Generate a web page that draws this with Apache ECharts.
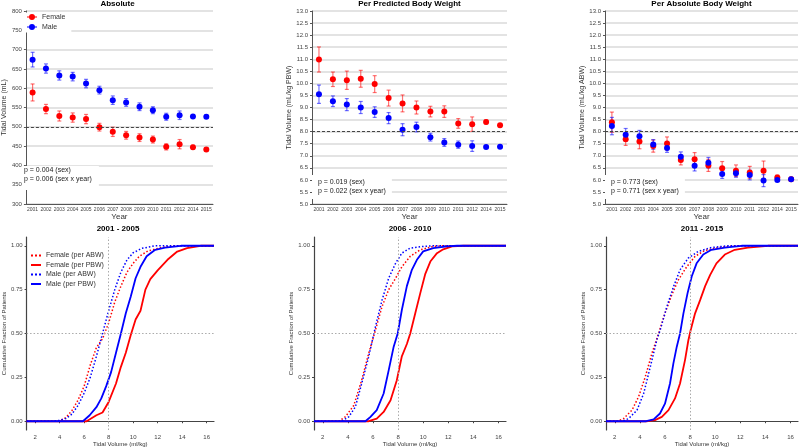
<!DOCTYPE html>
<html>
<head>
<meta charset="utf-8">
<script src="https://cdn.jsdelivr.net/npm/echarts@6/dist/echarts.min.js"></script>
<style>
  html, body { margin: 0; padding: 0; background: #fff; }
  #main { width: 800px; height: 448px; }
</style>
</head>
<body>
<div id="main"></div>
<script>
// year categories (no 2013 in the source)
var years = ['2001','2002','2003','2004','2005','2006','2007','2008','2009','2010','2011','2012','2014','2015'];

// Absolute tidal volume (mL), mean and error
var absFemale    = [589, 546, 528, 524, 520, 499, 487, 478, 472, 467, 448, 455, 447, 441];
var absFemaleErr = [22, 12, 13, 12, 12, 10, 12, 10, 10, 9, 8, 12, 5, 4];
var absMale      = [674, 651, 633, 630, 612, 595, 569, 563, 552, 543, 526, 530, 527, 526];
var absMaleErr   = [19, 12, 12, 11, 11, 10, 11, 10, 10, 9, 9, 11, 4, 4];

// per predicted body weight (mL/kg PBW)
var pbwFemale    = [10.99, 10.17, 10.13, 10.19, 9.97, 9.39, 9.17, 9.00, 8.83, 8.83, 8.34, 8.31, 8.40, 8.26];
var pbwFemaleErr = [0.52, 0.30, 0.38, 0.35, 0.35, 0.33, 0.35, 0.27, 0.22, 0.24, 0.20, 0.30, 0.08, 0.06];
var pbwMale      = [9.55, 9.26, 9.12, 9.00, 8.81, 8.56, 8.08, 8.19, 7.77, 7.55, 7.46, 7.40, 7.36, 7.37];
var pbwMaleErr   = [0.38, 0.22, 0.25, 0.25, 0.22, 0.23, 0.25, 0.20, 0.16, 0.16, 0.15, 0.22, 0.05, 0.05];

// per absolute body weight (mL/kg ABW)
var abwFemale    = [8.39, 7.68, 7.59, 7.40, 7.51, 6.82, 6.85, 6.60, 6.48, 6.38, 6.31, 6.38, 6.10, 6.03];
var abwFemaleErr = [0.42, 0.25, 0.30, 0.25, 0.27, 0.20, 0.28, 0.25, 0.28, 0.24, 0.25, 0.40, 0.10, 0.08];
var abwMale      = [8.23, 7.87, 7.81, 7.47, 7.32, 6.96, 6.59, 6.71, 6.24, 6.27, 6.20, 5.97, 6.00, 6.03];
var abwMaleErr   = [0.36, 0.26, 0.24, 0.20, 0.18, 0.20, 0.22, 0.22, 0.18, 0.16, 0.20, 0.25, 0.06, 0.06];

// cumulative distributions [tidal volume ml/kg, fraction]
var cdf0105FemaleABW = [[1.3,0],[3.9,0],[4.5,0.02],[5.0,0.06],[5.5,0.12],[6.0,0.2],[6.5,0.32],[7.0,0.42],[7.5,0.47],[8.0,0.56],[8.5,0.68],[9.0,0.77],[9.5,0.85],[10.0,0.9],[10.5,0.94],[11.2,0.97],[12.3,0.99],[13.4,1],[16.6,1]];
var cdf0105FemalePBW = [[1.3,0],[6.2,0],[7.0,0.034],[7.5,0.05],[8.0,0.11],[8.6,0.215],[9.0,0.31],[9.4,0.39],[9.8,0.49],[10.2,0.58],[10.6,0.63],[11.0,0.75],[11.4,0.81],[12.0,0.86],[12.8,0.92],[13.6,0.967],[14.4,0.987],[15.5,1],[16.6,1]];
var cdf0105MaleABW   = [[1.3,0],[3.5,0],[4.0,0.005],[4.5,0.015],[5.0,0.04],[5.5,0.09],[6.0,0.16],[6.5,0.25],[7.0,0.37],[7.5,0.5],[8.0,0.63],[8.5,0.75],[9.0,0.85],[9.5,0.92],[10.0,0.96],[10.7,0.985],[11.8,1],[16.6,1]];
var cdf0105MalePBW   = [[1.3,0],[5.9,0],[6.45,0.034],[7.0,0.08],[7.4,0.13],[7.8,0.2],[8.2,0.28],[8.6,0.39],[9.0,0.5],[9.4,0.615],[9.8,0.71],[10.2,0.815],[10.6,0.88],[11.1,0.94],[11.8,0.977],[12.6,0.99],[13.9,1],[16.6,1]];

var cdf0610FemaleABW = [[1.3,0],[3.27,0],[3.8,0.025],[4.47,0.09],[5.1,0.234],[5.66,0.387],[6.2,0.52],[6.72,0.653],[7.25,0.75],[7.8,0.815],[8.3,0.88],[8.97,0.94],[9.77,0.977],[10.8,0.996],[11.6,1],[16.6,1]];
var cdf0610FemalePBW = [[1.3,0],[5.66,0],[6.3,0.015],[6.85,0.053],[7.4,0.12],[7.9,0.234],[8.3,0.37],[8.7,0.44],[8.97,0.5],[9.37,0.615],[9.77,0.73],[10.17,0.84],[10.57,0.91],[11.1,0.958],[11.6,0.98],[12.3,0.996],[13.2,1],[16.6,1]];
var cdf0610MaleABW   = [[1.3,0],[3.5,0],[4.07,0.025],[4.6,0.082],[5.1,0.215],[5.66,0.368],[6.2,0.54],[6.72,0.69],[7.25,0.815],[7.8,0.9],[8.3,0.958],[8.97,0.987],[10.0,0.996],[10.8,1],[16.6,1]];
var cdf0610MalePBW   = [[1.3,0],[5.4,0],[5.8,0.025],[6.3,0.063],[6.85,0.158],[7.25,0.29],[7.65,0.425],[7.97,0.5],[8.3,0.634],[8.7,0.77],[9.1,0.863],[9.5,0.92],[10.0,0.968],[10.8,0.987],[11.9,0.996],[12.7,1],[16.6,1]];

var cdf1115FemaleABW = [[1.3,0],[2.2,0],[2.7,0.015],[3.37,0.063],[3.9,0.14],[4.43,0.253],[4.96,0.387],[5.49,0.5],[6.0,0.615],[6.54,0.72],[7.07,0.806],[7.73,0.88],[8.4,0.94],[9.18,0.973],[10.24,0.99],[11.56,1],[16.6,1]];
var cdf1115FemalePBW = [[1.3,0],[4.6,0],[5.2,0.006],[5.75,0.025],[6.28,0.063],[6.8,0.13],[7.2,0.215],[7.6,0.35],[7.86,0.46],[8.05,0.52],[8.4,0.615],[8.8,0.69],[9.2,0.77],[9.6,0.834],[10.1,0.9],[10.77,0.95],[11.56,0.977],[12.6,0.99],[14.2,1],[16.6,1]];
var cdf1115MaleABW   = [[1.3,0],[2.6,0],[3.1,0.015],[3.77,0.063],[4.3,0.158],[4.83,0.31],[5.35,0.463],[5.62,0.52],[6.15,0.653],[6.68,0.767],[7.2,0.863],[7.86,0.93],[8.65,0.968],[9.7,0.99],[11.0,1],[16.6,1]];
var cdf1115MalePBW   = [[1.3,0],[4.5,0],[5.1,0.01],[5.6,0.044],[6.0,0.1],[6.4,0.215],[6.67,0.33],[6.94,0.425],[7.2,0.5],[7.47,0.615],[7.8,0.73],[8.13,0.825],[8.52,0.9],[9.05,0.95],[9.7,0.977],[10.77,0.99],[12.1,1],[16.6,1]];

var cdfTicksX = [2, 4, 6, 8, 10, 12, 14, 16];
var cdfTicksY = [0, 0.25, 0.5, 0.75, 1];

var font = 'Liberation Sans, Arial, sans-serif';
var RED = '#ff0000', BLUE = '#0000ff';
var DOTTED_ICON = 'path://M0,0h2v2h-2z M4,0h2v2h-2z M8,0h2v2h-2z';
var SOLID_ICON = 'path://M0,0h10v2h-10z';

var chart = echarts.init(document.getElementById('main'));

function errData(vals, errs) {
  return vals.map(function (v, i) { return [i, v - errs[i], v + errs[i]]; });
}

function errSeries(name, data, color, idx) {
  return {
    type: 'custom', name: name, xAxisIndex: idx, yAxisIndex: idx,
    data: data, encode: { x: 0, y: [1, 2] }, z: 3, silent: true,
    renderItem: function (params, api) {
      var lo = api.coord([api.value(0), api.value(1)]);
      var hi = api.coord([api.value(0), api.value(2)]);
      var w = 2;
      var st = { stroke: color, lineWidth: 1.2 };
      return {
        type: 'group',
        children: [
          { type: 'line', shape: { x1: lo[0], y1: lo[1], x2: hi[0], y2: hi[1] }, style: st },
          { type: 'line', shape: { x1: lo[0] - w, y1: lo[1], x2: lo[0] + w, y2: lo[1] }, style: st },
          { type: 'line', shape: { x1: hi[0] - w, y1: hi[1], x2: hi[0] + w, y2: hi[1] }, style: st }
        ]
      };
    }
  };
}

function topX(idx) {
  return {
    type: 'category', gridIndex: idx, data: years, boundaryGap: true,
    name: 'Year', nameLocation: 'middle', nameGap: 9,
    nameTextStyle: { fontSize: 8, color: '#333', fontFamily: font },
    axisLine: { lineStyle: { color: '#555', width: 1 } },
    axisTick: { alignWithLabel: true, length: 2, lineStyle: { color: '#555' } },
    axisLabel: { interval: 0, fontSize: 5, color: '#444', margin: 3, fontFamily: font }
  };
}

function topY(idx, min, max, step, name) {
  return {
    type: 'value', gridIndex: idx, min: min, max: max, interval: step,
    name: name, nameLocation: 'middle', nameGap: 15,
    nameTextStyle: { fontSize: 7, color: '#333', fontFamily: font },
    axisLine: { show: true, lineStyle: { color: '#555', width: 1 } },
    axisTick: { show: true, length: 2, lineStyle: { color: '#555' } },
    axisLabel: { fontSize: 6, color: '#444', margin: 4, fontFamily: font,
      formatter: function (v) { return step < 1 ? v.toFixed(1) : String(v); } },
    splitLine: { show: true, lineStyle: { color: '#dadada', width: 1.5 } }
  };
}

function cdfX(idx) {
  return {
    type: 'value', gridIndex: idx, min: 1.3, max: 16.6,
    name: 'Tidal Volume (ml/kg)', nameLocation: 'middle', nameGap: 10,
    nameTextStyle: { fontSize: 6, color: '#333', fontFamily: font },
    axisLine: { show: true, lineStyle: { color: '#444', width: 1.2 } },
    axisTick: { show: true, length: 2, customValues: cdfTicksX, lineStyle: { color: '#444' } },
    axisLabel: { customValues: cdfTicksX, fontSize: 6, color: '#444', margin: 4, fontFamily: font },
    splitLine: { show: false }
  };
}

function cdfY(idx) {
  return {
    type: 'value', gridIndex: idx, min: -0.05, max: 1.05,
    name: 'Cumulative Fraction of Patients', nameLocation: 'middle', nameGap: 15,
    nameTextStyle: { fontSize: 6, color: '#333', fontFamily: font },
    axisLine: { show: true, lineStyle: { color: '#444', width: 1.2 } },
    axisTick: { show: true, length: 2, customValues: cdfTicksY, lineStyle: { color: '#444' } },
    axisLabel: { customValues: cdfTicksY, fontSize: 6, color: '#444', margin: 4, fontFamily: font,
      formatter: function (v) { return v.toFixed(2); } },
    splitLine: { show: false }
  };
}

function dotSeries(name, vals, color, idx, refY) {
  var s = {
    type: 'scatter', name: name, xAxisIndex: idx, yAxisIndex: idx, data: vals,
    symbolSize: 6, z: 4, itemStyle: { color: color, opacity: 1 }
  };
  if (refY !== undefined) {
    s.markLine = { silent: true, symbol: 'none', label: { show: false },
      lineStyle: { type: [3, 2], color: '#444', width: 1 }, data: [{ yAxis: refY }] };
  }
  return s;
}

function cdfSeries(name, data, color, dotted, idx, withRef) {
  var s = {
    type: 'line', name: name, xAxisIndex: idx, yAxisIndex: idx, data: data,
    symbol: 'none', showSymbol: false, smooth: false,
    itemStyle: { color: color },
    lineStyle: { color: color, width: dotted ? 1.5 : 1.8, type: dotted ? [1.5, 2] : 'solid' }
  };
  if (withRef) {
    s.markLine = { silent: true, symbol: 'none', label: { show: false },
      lineStyle: { type: [1.5, 2], color: '#aaa', width: 1 },
      data: [{ xAxis: 8 }, { yAxis: 0.5 }] };
  }
  return s;
}

var grids = [
  { left: 22, top: 11, width: 191, height: 193 },
  { left: 312, top: 11, width: 195, height: 193 },
  { left: 605, top: 11, width: 193, height: 193 },
  { left: 22, top: 237, width: 192, height: 193 },
  { left: 314, top: 237, width: 192, height: 193 },
  { left: 606, top: 237, width: 192, height: 193 }
];

var titleStyle = { fontSize: 8, fontWeight: 'bold', color: '#000', fontFamily: font };
var pStyle = { fontSize: 7, fontWeight: 'normal', color: '#222', lineHeight: 9, fontFamily: font };

var option = {
  animation: false,
  backgroundColor: '#fff',
  title: [
    { text: 'Absolute', left: 117.5, top: 0, textAlign: 'center', padding: 0, textStyle: titleStyle },
    { text: 'Per Predicted Body Weight', left: 409.5, top: 0, textAlign: 'center', padding: 0, textStyle: titleStyle },
    { text: 'Per Absolute Body Weight', left: 701.5, top: 0, textAlign: 'center', padding: 0, textStyle: titleStyle },
    { text: '2001 - 2005', left: 118, top: 225, textAlign: 'center', padding: 0, textStyle: titleStyle },
    { text: '2006 - 2010', left: 410, top: 225, textAlign: 'center', padding: 0, textStyle: titleStyle },
    { text: '2011 - 2015', left: 702, top: 225, textAlign: 'center', padding: 0, textStyle: titleStyle },
    { text: 'p = 0.004 (sex)\np = 0.006 (sex x year)', left: 22, top: 166, padding: [0, 7, 6, 2],
      backgroundColor: '#fff', textStyle: pStyle },
    { text: 'p = 0.019 (sex)\np = 0.022 (sex x year)', left: 312, top: 175, padding: [3, 6, 3, 6],
      backgroundColor: '#fff', textStyle: pStyle },
    { text: 'p = 0.773 (sex)\np = 0.771 (sex x year)', left: 605, top: 175, padding: [3, 6, 3, 6],
      backgroundColor: '#fff', textStyle: pStyle }
  ],
  legend: [
    {
      data: ['Female', 'Male'], orient: 'vertical', left: 23, top: 12.5,
      padding: [1, 6, 2, 4], itemGap: 3, itemWidth: 10, itemHeight: 6,
      backgroundColor: '#fff',
      icon: 'path://M0,2.5L10,2.5L10,3.5L0,3.5Z M5,0A3,3 0 1,1 4.99,0Z',
      textStyle: { fontSize: 7, color: '#333', fontFamily: font }
    },
    {
      data: [
        { name: 'Female (per ABW)', icon: DOTTED_ICON },
        { name: 'Female (per PBW)', icon: SOLID_ICON },
        { name: 'Male (per ABW)', icon: DOTTED_ICON },
        { name: 'Male (per PBW)', icon: SOLID_ICON }
      ],
      orient: 'vertical', left: 27, top: 252, padding: [0, 2, 0, 4],
      itemGap: 2.5, itemWidth: 10, itemHeight: 6,
      textStyle: { fontSize: 7, color: '#333', fontFamily: font }
    }
  ],
  grid: grids,
  xAxis: [topX(0), topX(1), topX(2), cdfX(3), cdfX(4), cdfX(5)],
  yAxis: [
    topY(0, 300, 800, 50, 'Tidal Volume (mL)'),
    topY(1, 5, 13, 0.5, 'Tidal Volume (mL/kg PBW)'),
    topY(2, 5, 13, 0.5, 'Tidal Volume (mL/kg ABW)'),
    cdfY(3), cdfY(4), cdfY(5)
  ],
  series: [
    errSeries('femaleErrAbs', errData(absFemale, absFemaleErr), 'rgba(255,0,0,0.55)', 0),
    errSeries('maleErrAbs', errData(absMale, absMaleErr), 'rgba(0,0,255,0.55)', 0),
    dotSeries('Female', absFemale, RED, 0, 500),
    dotSeries('Male', absMale, BLUE, 0),

    errSeries('femaleErrPbw', errData(pbwFemale, pbwFemaleErr), 'rgba(255,0,0,0.55)', 1),
    errSeries('maleErrPbw', errData(pbwMale, pbwMaleErr), 'rgba(0,0,255,0.55)', 1),
    dotSeries('Female', pbwFemale, RED, 1, 8),
    dotSeries('Male', pbwMale, BLUE, 1),

    errSeries('femaleErrAbw', errData(abwFemale, abwFemaleErr), 'rgba(255,0,0,0.55)', 2),
    errSeries('maleErrAbw', errData(abwMale, abwMaleErr), 'rgba(0,0,255,0.55)', 2),
    dotSeries('Female', abwFemale, RED, 2, 8),
    dotSeries('Male', abwMale, BLUE, 2),

    cdfSeries('Female (per ABW)', cdf0105FemaleABW, RED, true, 3, true),
    cdfSeries('Female (per PBW)', cdf0105FemalePBW, RED, false, 3),
    cdfSeries('Male (per ABW)', cdf0105MaleABW, BLUE, true, 3),
    cdfSeries('Male (per PBW)', cdf0105MalePBW, BLUE, false, 3),

    cdfSeries('Female (per ABW)', cdf0610FemaleABW, RED, true, 4, true),
    cdfSeries('Female (per PBW)', cdf0610FemalePBW, RED, false, 4),
    cdfSeries('Male (per ABW)', cdf0610MaleABW, BLUE, true, 4),
    cdfSeries('Male (per PBW)', cdf0610MalePBW, BLUE, false, 4),

    cdfSeries('Female (per ABW)', cdf1115FemaleABW, RED, true, 5, true),
    cdfSeries('Female (per PBW)', cdf1115FemalePBW, RED, false, 5),
    cdfSeries('Male (per ABW)', cdf1115MaleABW, BLUE, true, 5),
    cdfSeries('Male (per PBW)', cdf1115MalePBW, BLUE, false, 5)
  ]
};

chart.setOption(option);
</script>
</body>
</html>
